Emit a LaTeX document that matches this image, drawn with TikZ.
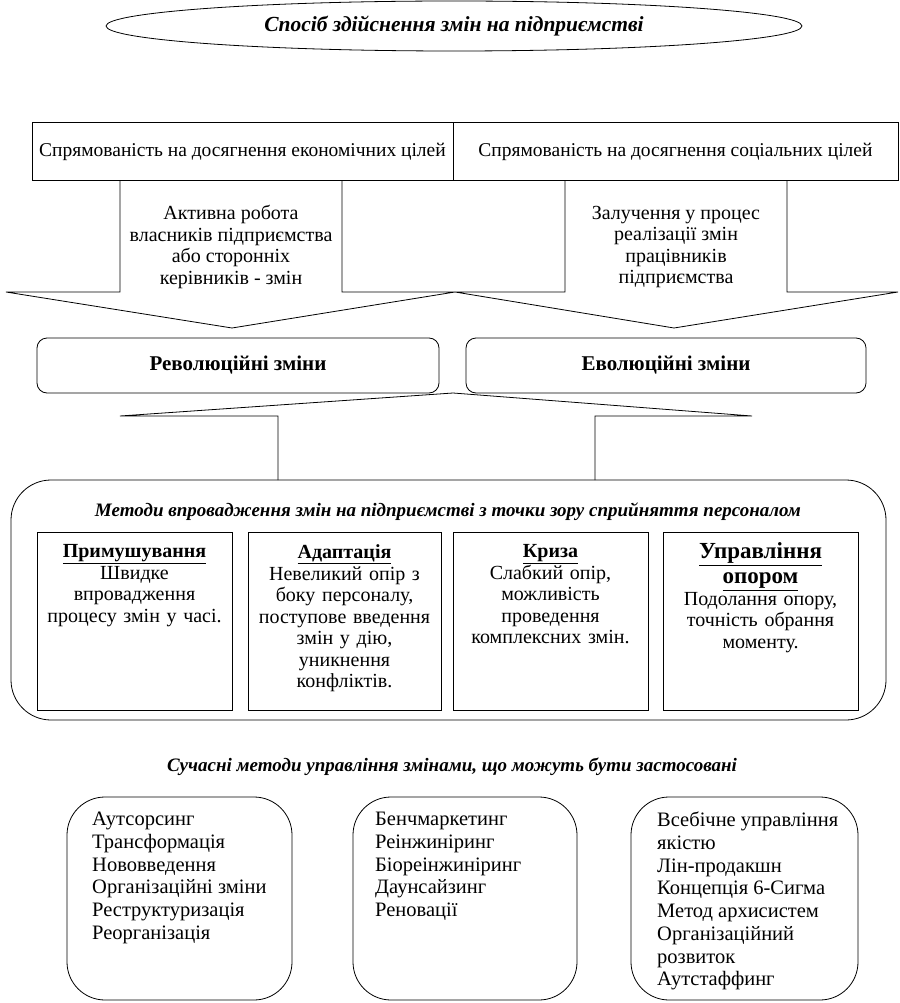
\documentclass[tikz,border=0pt]{standalone}
\usepackage{fontspec}
\setmainfont{Liberation Serif}
\usetikzlibrary{shapes.geometric}
\begin{document}
\begin{tikzpicture}[x=1pt,y=-1pt,
  every node/.style={font=\fontsize{20}{21.5}\selectfont},
  line/.style={draw=black, line width=0.8pt},
  topbox/.style={line, rectangle, inner sep=0pt},
  revbox/.style={line, rectangle, rounded corners=10pt, inner sep=0pt, minimum height=55pt, font=\fontsize{21}{24}\selectfont\bfseries},
  methbox/.style={line, rectangle, inner sep=0pt, minimum height=178pt},
  methtext/.style={align=center, text width=192pt, anchor=north, inner sep=0pt},
  modbox/.style={line, rectangle, rounded corners=38pt, inner sep=0pt, minimum height=203pt},
  modtext/.style={align=left, anchor=north west, inner sep=0pt, font=\fontsize{20.5}{22.7}\selectfont},
  btitle/.style={font=\fontsize{19}{22}\selectfont\bfseries\itshape}
]
\useasboundingbox (0,0) rectangle (899,1003);
% title ellipse
\node[line, ellipse, minimum width=696pt, minimum height=50pt, inner sep=0pt, btitle, font=\fontsize{21.5}{22}\selectfont\bfseries\itshape] (title) at (454,26) {Спосіб здійснення змін на підприємстві};
% top boxes
\node[topbox, minimum width=421pt, minimum height=58pt, font=\fontsize{19.5}{22}\selectfont] (econ) at (242.5,151.5) {Спрямованість на досягнення економічних цілей};
\node[topbox, minimum width=445pt, minimum height=58pt, font=\fontsize{19.5}{22}\selectfont] (soc) at (675.5,151.5) {Спрямованість на досягнення соціальних цілей};
% arrows
\coordinate (la1) at (120,180.5);
\coordinate (la2) at (342,180.5);
\coordinate (ra1) at (565,180.5);
\coordinate (ra2) at (787,180.5);
\draw[line] (la1) -- (120,292) -- (6,292) -- (232,328) -- (455,292) -- (342,292) -- (la2);
\draw[line] (ra1) -- (565,292) -- (455,292) -- (674,328) -- (898,292) -- (787,292) -- (ra2);
\node[align=center, inner sep=0pt] (atext) at (231,247) {Активна робота\\власників підприємства\\або сторонніх\\керівників - змін};
\node[align=center, inner sep=0pt] (ztext) at (676,247) {Залучення у процес\\реалізації змін\\працівників\\підприємства};
% revolution / evolution
\node[revbox, minimum width=402pt] (rev) at (238,365.5) {Революційні зміни};
\node[revbox, minimum width=400pt] (evo) at (666,365.5) {Еволюційні зміни};
% up arrow
\coordinate (tip) at (453,393);
\coordinate (ls) at (278,480);
\coordinate (rs) at (595,480);
\draw[line] (ls) -- (278,416) -- (120,416) -- (tip) -- (752,416) -- (595,416) -- (rs);
% methods box
\node[line, rectangle, rounded corners=40pt, minimum width=875pt, minimum height=240pt, inner sep=0pt] (meth) at (448.5,600) {};
\node[btitle, inner sep=0pt, font=\fontsize{19}{22}\selectfont\bfseries\itshape] (methtitle) at (448,512) {Методи впровадження змін на підприємстві з точки зору сприйняття персоналом};
\node[methbox, minimum width=195pt] (m1) at (134.5,621) {};
\node[methbox, minimum width=193pt] (m2) at (344.5,621) {};
\node[methbox, minimum width=195pt] (m3) at (550.5,621) {};
\node[methbox, minimum width=195pt] (m4) at (760.5,621) {};
\node[methtext] (t1) at (m1.north) [yshift=-13pt] {\textbf{\underline{Примушування}}\\Швидке\\впровадження\\процесу змін у часі.};
\node[methtext] (t2) at (m2.north) [yshift=-13pt] {\textbf{\underline{Адаптація}}\\Невеликий опір з\\боку персоналу,\\поступове введення\\змін у дію,\\уникнення\\конфліктів.};
\node[methtext] (t3) at (m3.north) [yshift=-13pt] {\textbf{\underline{Криза}}\\Слабкий опір,\\можливість\\проведення\\комплексних змін.};
\node[methtext] (t4) at (m4.north) [yshift=-11pt] {{\fontsize{23}{25}\selectfont\bfseries\underline{Управління}\\\underline{опором}\\}Подолання опору,\\точність обрання\\моменту.};
% modern methods
\node[btitle, inner sep=0pt] (modtitle) at (452,767) {Сучасні методи управління змінами, що можуть бути застосовані};
\node[modbox, minimum width=225pt] (b1) at (179.5,898.5) {};
\node[modbox, minimum width=224pt] (b2) at (465,898.5) {};
\node[modbox, minimum width=227pt] (b3) at (744.5,898.5) {};
\node[modtext] (bt1) at (92,812) {Аутсорсинг\\Трансформація\\Нововведення\\Організаційні зміни\\Реструктуризація\\Реорганізація};
\node[modtext] (bt2) at (375,812) {Бенчмаркетинг\\Реінжиніринг\\Біореінжиніринг\\Даунсайзинг\\Реновації};
\node[modtext] (bt3) at (657,812) {Всебічне управління\\якістю\\Лін-продакшн\\Концепція 6-Сигма\\Метод архисистем\\Організаційний\\розвиток\\Аутстаффинг};
\end{tikzpicture}
\end{document}
